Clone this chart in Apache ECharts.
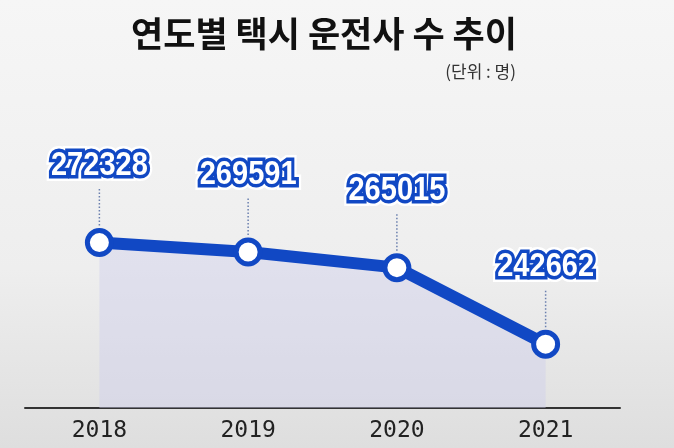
<!DOCTYPE html>
<html>
<head>
<meta charset="utf-8">
<script src="https://cdn.jsdelivr.net/npm/echarts@6/dist/echarts.min.js"></script>
<style>
  html, body { margin: 0; padding: 0; }
  #main { width: 674px; height: 448px; }
</style>
</head>
<body>
<div id="main"></div>
<script>
var years = ['2018', '2019', '2020', '2021'];
var drivers = [272328, 269591, 265015, 242662];

var blue = '#1148c4';
var labelFont = 'bold 33px "Liberation Sans", Arial, sans-serif';
var squeeze = 0.88;

var chart = echarts.init(document.getElementById('main'));
chart.setOption({
  backgroundColor: {
    type: 'linear', x: 0, y: 0, x2: 0, y2: 1,
    colorStops: [
      { offset: 0, color: '#f6f6f6' },
      { offset: 0.6, color: '#eeeeee' },
      { offset: 1, color: '#dedede' }
    ]
  },
  title: [{
    text: '연도별 택시 운전사 수 추이',
    left: 319,
    top: 11,
    textAlign: 'center',
    textStyle: {
      fontFamily: 'Noto Sans CJK KR',
      fontSize: 35,
      fontWeight: 'bold',
      color: '#111'
    }
  }, {
    text: '(단위 : 명)',
    left: 511,
    top: 58,
    textAlign: 'right',
    textStyle: {
      fontFamily: 'Noto Sans CJK KR',
      fontSize: 17,
      fontWeight: 'normal',
      color: '#333'
    }
  }],
  grid: {
    left: 25,
    right: 54,
    top: 100,
    bottom: 40
  },
  xAxis: {
    type: 'category',
    data: years,
    boundaryGap: true,
    axisLine: { lineStyle: { color: '#333', width: 2 } },
    axisTick: { alignWithLabel: true, inside: true, length: 9, lineStyle: { color: '#333', width: 2 } },
    axisLabel: {
      fontFamily: 'DejaVu Sans Mono',
      fontSize: 23,
      color: '#222',
      margin: 12
    }
  },
  yAxis: {
    type: 'value',
    min: 224000,
    max: 314000,
    show: false
  },
  series: [{
    type: 'line',
    data: drivers,
    z: 3,
    lineStyle: { color: blue, width: 12 },
    symbol: 'circle',
    symbolSize: 24,
    itemStyle: { color: '#fff', borderColor: blue, borderWidth: 5 },
    areaStyle: { color: 'rgba(205,205,235,0.6)', origin: 'start' }
  }, {
    // dotted leader + outlined value label
    type: 'custom',
    data: drivers.map(function (v, i) { return [i, v]; }),
    z: 4,
    silent: true,
    renderItem: function (params, api) {
      var p = api.coord([api.value(0), api.value(1)]);
      var txt = String(api.value(1));
      var ty = p[1] - 77;
      return {
        type: 'group',
        children: [{
          type: 'line',
          shape: { x1: p[0], y1: p[1] - 17, x2: p[0], y2: p[1] - 54 },
          style: { stroke: '#6a7fae', lineWidth: 1.5, lineDash: [1.5, 2] }
        }, {
          type: 'text',
          x: p[0], y: ty, scaleX: squeeze,
          style: {
            text: txt, font: labelFont, textAlign: 'center', textVerticalAlign: 'middle',
            fill: '#fff', stroke: '#fff', lineWidth: 12, lineJoin: 'round'
          }
        }, {
          type: 'text',
          x: p[0], y: ty, scaleX: squeeze,
          style: {
            text: txt, font: labelFont, textAlign: 'center', textVerticalAlign: 'middle',
            fill: '#fff', stroke: blue, lineWidth: 7, lineJoin: 'round', strokeFirst: true
          }
        }]
      };
    }
  }]
});
</script>
</body>
</html>
